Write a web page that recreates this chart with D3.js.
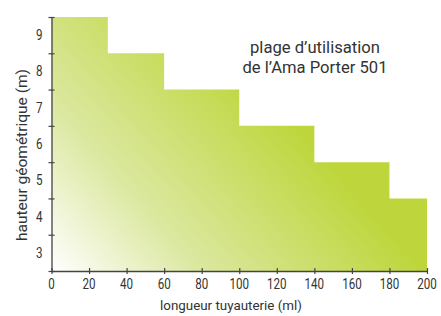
<!DOCTYPE html>
<html>
<head>
<meta charset="utf-8">
<script src="https://cdn.jsdelivr.net/npm/d3@7"></script>
<style>
  body { margin: 0; background: #fff; }
  text { font-family: Roboto, "DejaVu Sans Condensed", sans-serif; fill: #333; }
</style>
</head>
<body>
<div id="chart"></div>
<script>
const WIDTH = 441;
const HEIGHT = 316;
const MARGIN = { top: 17, left: 51.5, right: 14, bottom: 45 };
const SQUEEZE = 0.8; // police condensée simulée

// plage d'utilisation : longueur (ml) -> hauteur max (m)
const longueurs = [0, 30, 60, 100, 140, 180, 200];
const hauteurs = [9.5, 8.5, 7.5, 6.5, 5.5, 4.5, 4.5];
const xTicks = [0, 20, 40, 60, 80, 100, 120, 140, 160, 180, 200];
const yLabels = [3, 4, 5, 6, 7, 8, 9];
const yTicks = [2.5, 3.5, 4.5, 5.5, 6.5, 7.5, 8.5, 9.5];
const annotation = ["plage d\u2019utilisation", "de l\u2019Ama Porter 501"];
const annotationWidths = [130, 145];

const svg = d3.select("#chart").append("svg")
  .attr("width", WIDTH)
  .attr("height", HEIGHT);

const x = d3.scaleLinear()
  .domain([0, 200])
  .range([MARGIN.left, WIDTH - MARGIN.right]);

const y = d3.scaleLinear()
  .domain([2.5, 9.5])
  .range([HEIGHT - MARGIN.bottom, MARGIN.top]);

const grad = svg.append("defs").append("linearGradient")
  .attr("id", "vert")
  .attr("gradientUnits", "userSpaceOnUse")
  .attr("x1", x(0)).attr("y1", y(2.5))
  .attr("x2", x(112)).attr("y2", y(7.6));
grad.append("stop").attr("offset", 0).attr("stop-color", "#ffffff");
grad.append("stop").attr("offset", 0.4).attr("stop-color", "#dbe8a0");
grad.append("stop").attr("offset", 1).attr("stop-color", "#bed63c");

const pts = longueurs.map((d, i) => [d, hauteurs[i]]);

const area = d3.area()
  .curve(d3.curveStepAfter)
  .x(d => x(d[0]))
  .y0(y(2.5))
  .y1(d => y(d[1]));

svg.append("path")
  .datum(pts)
  .attr("d", area)
  .attr("fill", "url(#vert)");

// axe x
const gx = svg.append("g")
  .attr("transform", `translate(0, ${y(2.5)})`)
  .call(d3.axisBottom(x).tickValues(xTicks).tickSize(0).tickFormat(""));
gx.select(".domain").attr("stroke", "#444").attr("stroke-width", 1.3);
gx.selectAll(".tick line").attr("y1", -3).attr("y2", 3).attr("stroke", "#444").attr("stroke-width", 1.2);

svg.append("g").selectAll("text")
  .data(xTicks)
  .join("text")
  .attr("transform", d => `translate(${x(d)}, ${y(2.5) + 18}) scale(${SQUEEZE}, 1)`)
  .attr("text-anchor", "middle")
  .attr("font-size", 14.5)
  .text(d => d);

// axe y : graduations aux demi-valeurs, libellés aux entiers
const gy = svg.append("g")
  .attr("transform", `translate(${x(0)}, 0)`)
  .call(d3.axisLeft(y).tickValues(yTicks).tickSize(0).tickFormat(""));
gy.select(".domain").attr("stroke", "#444").attr("stroke-width", 1.3);
gy.selectAll(".tick line").attr("x1", -3).attr("x2", 3).attr("stroke", "#444").attr("stroke-width", 1.2);

svg.append("g").selectAll("text")
  .data(yLabels)
  .join("text")
  .attr("transform", d => `translate(${x(0) - 9}, ${y(d) + 5}) scale(${SQUEEZE}, 1)`)
  .attr("text-anchor", "end")
  .attr("font-size", 14.5)
  .text(d => d);

// titres
svg.append("text")
  .attr("x", 231)
  .attr("y", 310)
  .attr("text-anchor", "middle")
  .attr("font-size", 13.5)
  .attr("textLength", 142)
  .attr("lengthAdjust", "spacingAndGlyphs")
  .text("longueur tuyauterie (ml)");

svg.append("text")
  .attr("transform", "translate(27, 155) rotate(-90)")
  .attr("text-anchor", "middle")
  .attr("font-size", 14.5)
  .attr("textLength", 172)
  .attr("lengthAdjust", "spacingAndGlyphs")
  .text("hauteur géométrique (m)");

svg.append("g").selectAll("text")
  .data(annotation)
  .join("text")
  .attr("x", 315)
  .attr("y", (d, i) => 53 + i * 20)
  .attr("text-anchor", "middle")
  .attr("font-size", 17)
  .attr("textLength", (d, i) => annotationWidths[i])
  .attr("lengthAdjust", "spacingAndGlyphs")
  .text(d => d);
</script>
</body>
</html>
